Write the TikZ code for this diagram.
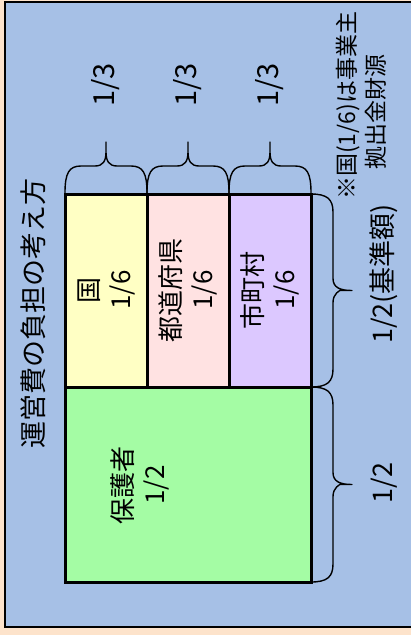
\documentclass[tikz,border=0pt]{standalone}
\usepackage{fontspec}
\setmainfont{Noto Sans CJK JP}
\definecolor{peach}{HTML}{FDE3CB}
\definecolor{bluebg}{HTML}{A6C0E6}
\definecolor{yel}{HTML}{FFFFC4}
\definecolor{pnk}{HTML}{FFE2E2}
\definecolor{prp}{HTML}{DCC8FF}
\definecolor{grn}{HTML}{A4FCA4}
\newcommand{\topbrace}[3]{% xa xb name
  \pgfmathsetmacro{\xm}{(#1+#2)/2}
  \draw[bracestyle] (#1,193) .. controls (#1,173) and (#1+4,166) .. (#1+16,166)
    -- (\xm-11,166) .. controls (\xm-3,166) and (\xm,161) .. (\xm,152) -- (\xm,142)
    -- (\xm,152) .. controls (\xm,161) and (\xm+3,166) .. (\xm+11,166)
    -- (#2-16,166) .. controls (#2-4,166) and (#2,173) .. (#2,193);}
\newcommand{\rightbrace}[2]{% ya yb
  \pgfmathsetmacro{\ym}{(#1+#2)/2}
  \draw[bracestyle] (311,#1) .. controls (327,#1) and (333,#1+5) .. (333,#1+18)
    -- (333,\ym-12) .. controls (333,\ym-3) and (340,\ym) .. (352,\ym)
    -- (340,\ym) .. controls (340,\ym) and (333,\ym+3) .. (333,\ym+12)
    -- (333,#2-18) .. controls (333,#2-5) and (327,#2) .. (311,#2);}
\tikzset{
  bracestyle/.style={line width=1.4pt, line join=round},
  cell/.style={draw=black, line width=3pt},
  lbl/.style={rotate=90, font=\fontsize{26}{32}\selectfont, inner sep=0pt, align=center},
  note/.style={rotate=90, font=\fontsize{23}{26}\selectfont, inner sep=0pt, anchor=west},
}
\begin{document}
\begin{tikzpicture}[x=1pt,y=-1pt]
\useasboundingbox (0,0) rectangle (411,635);
\fill[peach] (0,0) rectangle (411,635);
\filldraw[fill=bluebg, draw=black, line width=1.8pt] (5,2) rectangle (420,627);
% cells
\filldraw[cell, fill=yel] (65,194) rectangle (147,387);
\filldraw[cell, fill=pnk] (147,194) rectangle (229,387);
\filldraw[cell, fill=prp] (229,194) rectangle (311,387);
\filldraw[cell, fill=grn] (65,387) rectangle (311,582);
\node[lbl] (kuni) at (106,290) {国\\1/6};
\node[lbl] (pref) at (188,290) {都道府県\\1/6};
\node[lbl] (city) at (270,290) {市町村\\1/6};
\node[lbl] (parent) at (140,485) {保護者\\1/2};
% title
\node[lbl, font=\fontsize{27}{32}\selectfont] (title) at (33,313) {運営費の負担の考え方};
% top braces
\topbrace{65}{147}{a}
\topbrace{147}{229}{b}
\topbrace{229}{311}{c}
\node[lbl, font=\fontsize{29}{32}\selectfont] (t1) at (106,85) {1/3};
\node[lbl, font=\fontsize{29}{32}\selectfont] (t2) at (188,85) {1/3};
\node[lbl, font=\fontsize{29}{32}\selectfont] (t3) at (270,85) {1/3};
% right braces
\rightbrace{194}{387}
\rightbrace{387}{582}
\node[lbl, font=\fontsize{27}{32}\selectfont] (half1) at (384,274) {1/2(基準額)};
\node[lbl, font=\fontsize{27}{32}\selectfont] (half2) at (384,483) {1/2};
% note
\node[note] (note1) at (348,200) {※国(1/6)は事業主};
\node[note] (note2) at (376,170) {拠出金財源};
\end{tikzpicture}
\end{document}
